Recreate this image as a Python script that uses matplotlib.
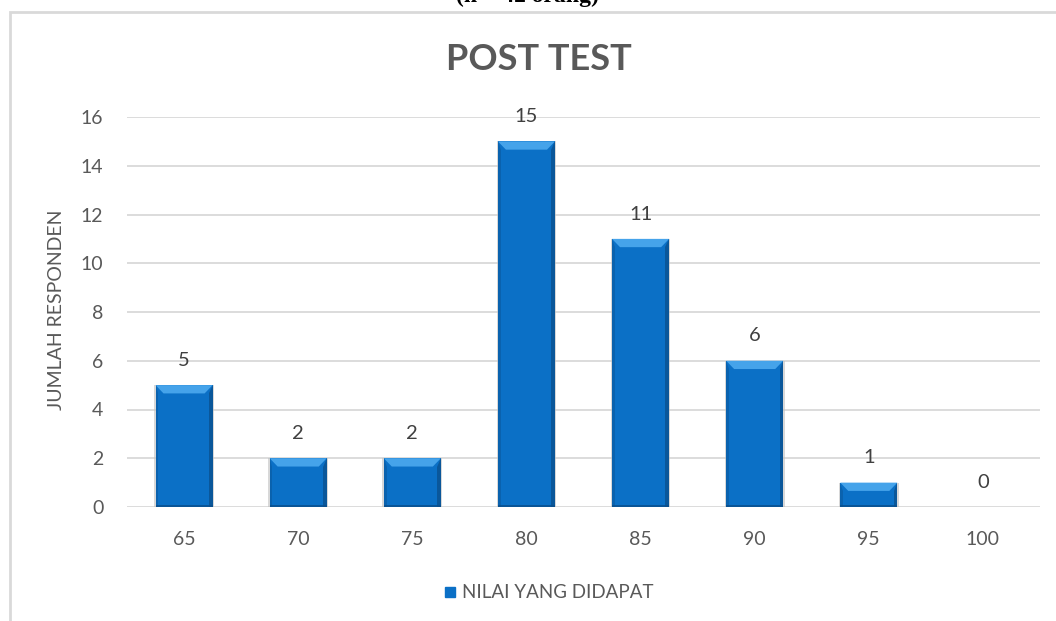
import matplotlib
matplotlib.use("Agg")
import matplotlib.pyplot as plt
from matplotlib.patches import Polygon, Rectangle

# === DATA ===
NILAI = ["65", "70", "75", "80", "85", "90", "95", "100"]
JUMLAH = [5, 2, 2, 15, 11, 6, 1, 0]
Y_TICKS = [0, 2, 4, 6, 8, 10, 12, 14, 16]

TITLE = "POST TEST"
Y_LABEL = "JUMLAH RESPONDEN"
LEGEND_LABEL = "NILAI YANG DIDAPAT"
TOP_NOTE = "(n = 42 orang)"

# === STYLE ===
plt.rcParams['font.family'] = ['Lato', 'DejaVu Sans']
TEXT_COLOR = "#595959"
BAR_COLOR = "#0B70C6"
BEVEL_TOP = "#45A3EA"
BEVEL_DARK = "#0A4F8C"
GRID_COLOR = "#D9D9D9"

fig = plt.figure(figsize=(10.56, 6.21), dpi=100)
fig.patch.set_facecolor("white")

# chart frame (cut off at right and bottom)
frame = Rectangle((10 / 1056, -0.1), 1.2, 1 - 12 / 621 + 0.1, transform=fig.transFigure,
                  fill=False, edgecolor=GRID_COLOR, linewidth=2)
fig.patches.append(frame)

# cut-off heading above the chart
fig.text(0.499, 1 + 4 / 621, TOP_NOTE, ha="center", va="center", fontsize=17,
         fontweight="bold", family="Liberation Serif", color="black")

ax = fig.add_axes([127 / 1056, 1 - 507 / 621, (1040 - 127) / 1056, (507 - 117) / 621])
x = list(range(len(NILAI)))
width = 0.5
bars = ax.bar(x, JUMLAH, width=width, color=BAR_COLOR, zorder=3, linewidth=0)

# bevel effect on each bar
bev_x = 0.07
bev_y = 0.34
for xi, v in zip(x, JUMLAH):
    if v <= 0:
        continue
    l, r = xi - width / 2, xi + width / 2
    by = min(bev_y, v / 2)
    # soft shadow around / below
    ax.add_patch(Rectangle((l - 0.012, -0.14), width + 0.024, v + 0.14, color="#BFBFBF",
                           alpha=0.6, zorder=2, linewidth=0))
    # top light bevel
    ax.add_patch(Polygon([(l, v), (r, v), (r - bev_x, v - by), (l + bev_x, v - by)],
                         closed=True, color=BEVEL_TOP, zorder=4, linewidth=0))
    # right dark edge
    ax.add_patch(Polygon([(r, v), (r, 0), (r - bev_x * 0.45, 0), (r - bev_x * 0.45, v - by)],
                         closed=True, color=BEVEL_DARK, zorder=4, linewidth=0, alpha=0.75))
    # left slightly darker edge
    ax.add_patch(Polygon([(l, v), (l, 0), (l + bev_x * 0.35, 0), (l + bev_x * 0.35, v - by)],
                         closed=True, color="#0A62AE", zorder=4, linewidth=0))
    # bottom dark edge
    ax.add_patch(Rectangle((l, 0), width, 0.08, color=BEVEL_DARK, zorder=4, linewidth=0,
                           alpha=0.8))

# data labels
for xi, v in zip(x, JUMLAH):
    ax.text(xi, v + 1.02, str(v), ha="center", va="center", fontsize=14.5, color="#404040")

ax.set_xlim(-0.5, len(NILAI) - 0.5)
ax.set_ylim(0, 16)
ax.set_yticks(Y_TICKS)
ax.set_xticks(x)
ax.set_xticklabels(NILAI)
ax.tick_params(axis="both", length=0, labelsize=14, labelcolor=TEXT_COLOR)
ax.tick_params(axis="x", pad=17)
ax.tick_params(axis="y", pad=17)
ax.grid(axis="y", color=GRID_COLOR, linewidth=1.3, zorder=0)
for s in ax.spines.values():
    s.set_visible(False)
ax.set_facecolor("none")

fig.text(57 / 1056, 1 - 310 / 621, Y_LABEL, rotation=90, ha="center", va="center",
         fontsize=14, color=TEXT_COLOR)

fig.text(539 / 1056, 1 - 59 / 621, TITLE, ha="center", va="center", fontsize=26,
         fontweight="bold", color=TEXT_COLOR)

# legend
fig.patches.append(Rectangle((445 / 1056, 1 - 597 / 621), 10 / 1056, 10 / 621,
                             transform=fig.transFigure, color=BAR_COLOR))
fig.text(462 / 1056, 1 - 592 / 621, LEGEND_LABEL, ha="left", va="center",
         fontsize=13.5, color=TEXT_COLOR)

plt.savefig("out.png", dpi=100, facecolor=fig.get_facecolor())
plt.close()
